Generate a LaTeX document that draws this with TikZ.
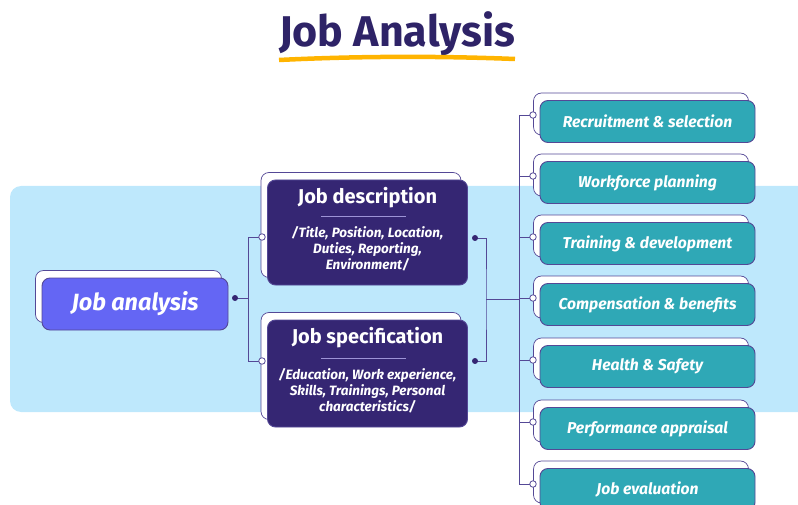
\documentclass[tikz,border=0pt]{standalone}
\usepackage{fontspec}
\setmainfont{Fira Sans}
\usepackage{tikz}
\usetikzlibrary{positioning,shadows}
\usepackage{xcolor}

\definecolor{titlec}{HTML}{2E2367}
\definecolor{ulc}{HTML}{FFB400}
\definecolor{bandc}{HTML}{BEE8FC}
\definecolor{mainc}{HTML}{6466F4}
\definecolor{darkc}{HTML}{352673}
\definecolor{tealc}{HTML}{2FA8B6}
\definecolor{linec}{HTML}{544896}
\definecolor{sepc}{HTML}{9D93D6}

\pgfdeclarelayer{band}
\pgfdeclarelayer{wires}
\pgfsetlayers{band,wires,main}

\tikzset{
  box/.style={rounded corners=8pt, draw=linec, line width=0.9pt, inner sep=0pt,
    copy shadow={shadow xshift=-6.5pt, shadow yshift=7.5pt, fill=white, draw=linec, line width=0.7pt}},
  leafbox/.style={box, fill=tealc, minimum width=215, minimum height=42,
    text=white, font=\fontsize{15.7}{18}\selectfont\bfseries\itshape},
  dot/.style={circle, fill=darkc, inner sep=0pt, minimum size=6pt},
  odot/.style={circle, fill=white, draw=linec, line width=0.8pt, inner sep=0pt, minimum size=6.5pt},
  conn/.style={draw=linec, line width=0.9pt},
  subtxt/.style={text=white, align=center, font=\fontsize{13.5}{16}\selectfont\bfseries\itshape},
  headtxt/.style={text=white, font=\fontsize{20}{22}\selectfont\bfseries}
}

\begin{document}
\begin{tikzpicture}[x=1pt,y=-1pt]
  \useasboundingbox (0,0) rectangle (798,505);
  \clip (0,0) rectangle (798,505);

  % heading
  \node[text=titlec, font=\fontsize{43}{48}\selectfont\bfseries] (title) at (397,34) {Job Analysis};
  \draw[ulc, line width=4.5pt] (279,60) .. controls (360,56) and (440,56) .. (515,59);

  % light band behind the first two levels
  \begin{pgfonlayer}{band}
    \fill[bandc, rounded corners=11pt] (10,186) rectangle (840,412);
  \end{pgfonlayer}

  % level 1
  \node[box, fill=mainc, minimum width=186, minimum height=52, text=white,
        font=\fontsize{23.5}{26}\selectfont\bfseries\itshape] (ja) at (135,304) {Job analysis};

  % level 2
  \node[box, fill=darkc, minimum width=200, minimum height=105] (jd) at (367.5,232.5) {};
  \node[box, fill=darkc, minimum width=200, minimum height=107] (js) at (367.5,373.5) {};
  \node[headtxt] (jdt) at (367.5,198) {Job description};
  \draw[sepc, line width=0.8pt] (321,216) -- (406,216);
  \node[subtxt] (jds) at (367.5,249) {/Title, Position, Location,\\Duties, Reporting,\\Environment/};
  \node[headtxt] (jst) at (367.5,338) {Job specification};
  \draw[sepc, line width=0.8pt] (321,358) -- (406,358);
  \node[subtxt] (jss) at (367.5,391) {/Education, Work experience,\\Skills, Trainings, Personal\\characteristics/};

  % level 3
  \node[leafbox] (r1) at (647.5,121.5) {Recruitment \& selection};
  \node[leafbox] (r2) at (647.5,182.5) {Workforce planning};
  \node[leafbox] (r3) at (647.5,243.5) {Training \& development};
  \node[leafbox] (r4) at (647.5,304.5) {Compensation \& benefits};
  \node[leafbox] (r5) at (647.5,366.5) {Health \& Safety};
  \node[leafbox] (r6) at (647.5,428.5) {Performance appraisal};
  \node[leafbox] (r7) at (647.5,489.5) {Job evaluation};

  % joints and end circles
  \coordinate (j0) at (248,298);
  \coordinate (j1) at (486,299);
  \coordinate (ttop) at (519,115);
  \coordinate (tbot) at (519,484);
  \coordinate (tmid) at (519,299);

  \node[dot] (d0) at (235,298) {};
  \node[odot] (o1) at (262,237) {};
  \node[odot] (o2) at (262,361) {};
  \node[dot] (d1) at (475,238) {};
  \node[dot] (d2) at (475,361) {};

  \node[odot] (p1) at (533,115) {};
  \node[odot] (p2) at (533,176) {};
  \node[odot] (p3) at (533,237) {};
  \node[odot] (p4) at (533,298) {};
  \node[odot] (p5) at (533,360) {};
  \node[odot] (p6) at (533,422) {};
  \node[odot] (p7) at (533,484) {};

  % wires go under the circles
  \begin{pgfonlayer}{wires}
    \draw[conn] (d0.center) -- (j0) |- (o1.center);
    \draw[conn] (j0) |- (o2.center);
    \draw[conn] (d1.center) -| (j1) |- (d2.center);
    \draw[conn] (j1) -- (tmid);
    \draw[conn] (ttop) -- (tbot);
    \draw[conn] (ttop) -- (p1.center);
    \draw[conn] (ttop |- p2) -- (p2.center);
    \draw[conn] (ttop |- p3) -- (p3.center);
    \draw[conn] (ttop |- p4) -- (p4.center);
    \draw[conn] (ttop |- p5) -- (p5.center);
    \draw[conn] (ttop |- p6) -- (p6.center);
    \draw[conn] (tbot) -- (p7.center);
  \end{pgfonlayer}
\end{tikzpicture}
\end{document}
